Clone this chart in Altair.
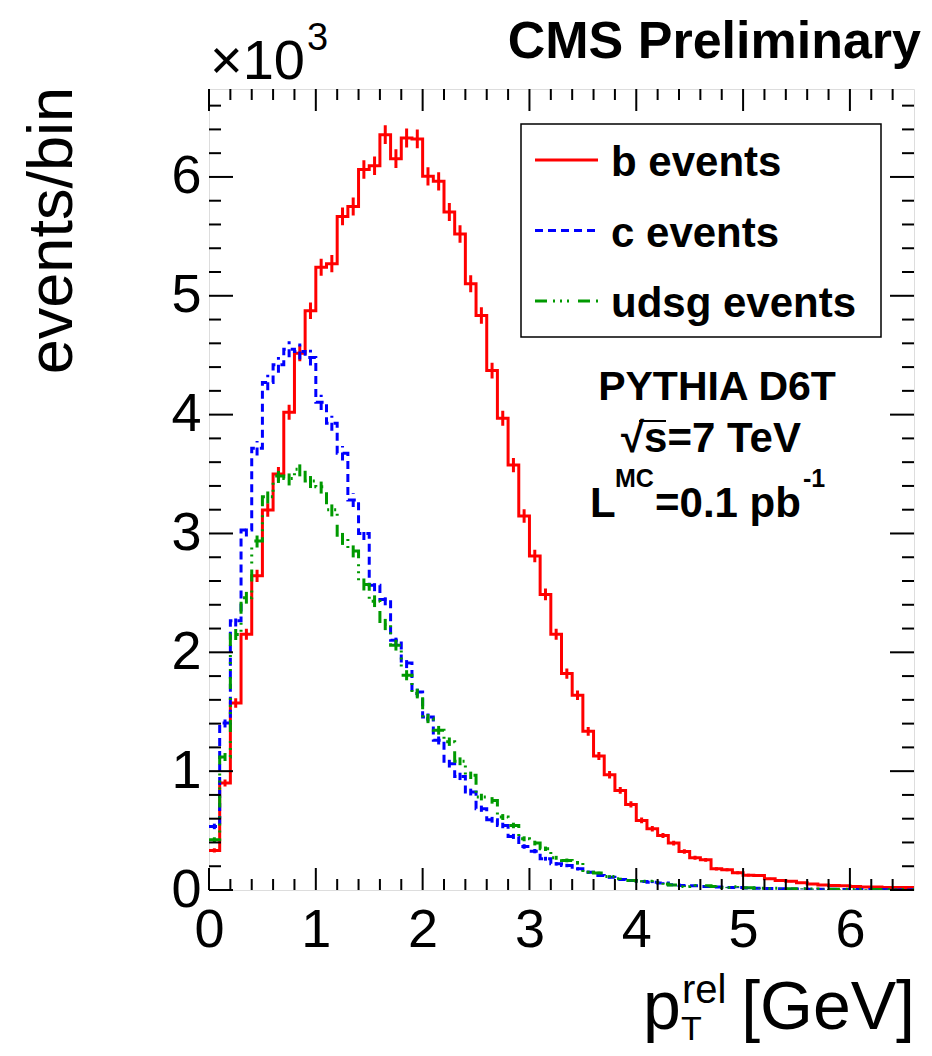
import altair as alt
import pandas as pd
import numpy as np

FONT = "Liberation Sans"

# ---------------- data ----------------
bin_width = 0.1
x_max = 6.6
y_max = 6740

series_names = ["b events", "c events", "udsg events"]
series_colors = ["#ff0000", "#0000ff", "#009900"]
series_dashes = [[1, 0], [8, 5], [12, 6, 2, 5, 2, 5, 2, 9]]

b_counts = [333, 900, 1574, 2152, 2644, 3197, 3500, 4020, 4517, 4874,
            5240, 5270, 5668, 5752, 6062, 6095, 6356, 6154, 6328, 6320,
            6005, 5963, 5705, 5520, 5101, 4834, 4371, 3969, 3576, 3147,
            2810, 2487, 2152, 1821, 1639, 1335, 1127, 970, 838, 720,
            585, 515, 459, 395, 324, 271, 254, 178, 170, 145,
            125, 122, 94, 80, 74, 60, 51, 43, 38, 35,
            30, 25, 25, 22, 20, 20]
c_counts = [535, 1405, 2265, 3029, 3717, 4270, 4419, 4551, 4531, 4480,
            4104, 3927, 3675, 3281, 3000, 2565, 2445, 2102, 1911, 1667,
            1456, 1260, 1063, 956, 824, 684, 591, 543, 451, 366,
            327, 263, 220, 206, 178, 150, 122, 108, 88, 80,
            72, 66, 58, 44, 38, 35, 30, 25, 22, 20,
            16, 14, 12, 10, 9, 8, 7, 6, 6, 5,
            5, 4, 4, 3, 3, 3]
udsg_counts = [423, 1119, 2150, 2459, 2936, 3310, 3484, 3463, 3540, 3441,
               3394, 3200, 2958, 2852, 2571, 2430, 2234, 2060, 1807, 1653,
               1442, 1344, 1248, 1083, 965, 782, 754, 614, 543, 431,
               395, 347, 271, 249, 229, 150, 142, 114, 94, 80,
               74, 74, 51, 43, 30, 38, 35, 30, 20, 28,
               18, 15, 12, 14, 10, 10, 8, 9, 6, 7,
               5, 6, 4, 5, 3, 4]

x_tick_labels = [0, 1, 2, 3, 4, 5, 6]
y_tick_labels = [0, 1000, 2000, 3000, 4000, 5000, 6000]

all_counts = [b_counts, c_counts, udsg_counts]
n_bins = len(b_counts)

# step table (bin lower edges + closing edge) and bin-centre table
step_rows, err_rows = [], []
for name, counts in zip(series_names, all_counts):
    for i, v in enumerate(counts):
        step_rows.append({"series": name, "x": i * bin_width, "v": v})
        err_rows.append({"series": name, "xc": (i + 0.5) * bin_width, "v": v})
    step_rows.append({"series": name, "x": n_bins * bin_width, "v": counts[-1]})
step_df = pd.DataFrame(step_rows)
err_df = pd.DataFrame(err_rows)

# ---------------- geometry ----------------
W, H = 705, 801
LW = 3

xscale = alt.Scale(domain=[0, x_max], nice=False, zero=False)
yscale = alt.Scale(domain=[0, y_max], nice=False, zero=False)
xaxis = alt.Axis(values=x_tick_labels, ticks=False, domain=False, grid=False,
                 labelFont=FONT, labelFontSize=54, labelColor="black",
                 labelPadding=13, title=None, labelFlush=False)
yaxis = alt.Axis(values=y_tick_labels, ticks=False, domain=False, grid=False,
                 labelFont=FONT, labelFontSize=54, labelColor="black",
                 labelPadding=8, title=None, labelExpr="datum.value / 1000")

color_enc = alt.Color("series:N", scale=alt.Scale(domain=series_names, range=series_colors), legend=None)
dash_enc = alt.StrokeDash("series:N", scale=alt.Scale(domain=series_names, range=series_dashes), legend=None)

hist = alt.Chart(step_df).mark_line(interpolate="step-after", strokeWidth=LW, clip=True).encode(
    x=alt.X("x:Q", scale=xscale, axis=xaxis),
    y=alt.Y("v:Q", scale=yscale, axis=yaxis),
    color=color_enc, strokeDash=dash_enc, detail="series:N",
)

errs = alt.Chart(err_df).transform_calculate(
    lo="datum.v - sqrt(datum.v)", hi="datum.v + sqrt(datum.v)"
).mark_rule(strokeWidth=LW).encode(
    x=alt.X("xc:Q", scale=xscale, axis=xaxis),
    y=alt.Y("lo:Q", scale=yscale, axis=yaxis),
    y2="hi:Q",
    color=color_enc, strokeDash=dash_enc,
)

# inward ROOT-style ticks
x_major = list(range(0, 7))
x_minor = [round(0.2 * k, 1) for k in range(1, 33) if k % 5 != 0]
y_major = list(range(0, 7000, 1000))
y_minor = [v for v in range(200, 6740, 200) if v % 1000 != 0]

def xticks(vals, length):
    d = pd.DataFrame({"x": vals})
    bot = alt.Chart(d).mark_rule(color="black", strokeWidth=2).encode(
        x=alt.X("x:Q", scale=xscale, axis=xaxis), y=alt.value(H), y2=alt.value(H - length))
    top = alt.Chart(d).mark_rule(color="black", strokeWidth=2).encode(
        x=alt.X("x:Q", scale=xscale, axis=xaxis), y=alt.value(0), y2=alt.value(length))
    return [bot, top]

def yticks(vals, length):
    d = pd.DataFrame({"v": vals})
    left = alt.Chart(d).mark_rule(color="black", strokeWidth=2).encode(
        y=alt.Y("v:Q", scale=yscale, axis=yaxis), x=alt.value(0), x2=alt.value(length))
    right = alt.Chart(d).mark_rule(color="black", strokeWidth=2).encode(
        y=alt.Y("v:Q", scale=yscale, axis=yaxis), x=alt.value(W), x2=alt.value(W - length))
    return [left, right]

tick_layers = xticks(x_major, 22) + xticks(x_minor, 11) + yticks(y_major, 24) + yticks(y_minor, 12)

def txt(s, x, y, size, bold=False, align="left", angle=0, baseline="alphabetic"):
    return alt.Chart(pd.DataFrame({"t": [s]})).mark_text(
        align=align, baseline=baseline, fontSize=size, font=FONT,
        fontWeight="bold" if bold else "normal", angle=angle, color="black"
    ).encode(x=alt.value(x), y=alt.value(y), text="t:N")

# legend box
legend_box = alt.Chart(pd.DataFrame({"a": [0]})).mark_rect(
    fill="white", stroke="black", strokeWidth=1.5
).encode(x=alt.value(312), x2=alt.value(672), y=alt.value(35), y2=alt.value(248))

legend_layers = [legend_box]
row_y = [71, 141.5, 212]
for name, col, dash, ry in zip(series_names, series_colors, series_dashes, row_y):
    legend_layers.append(
        alt.Chart(pd.DataFrame({"a": [0]})).mark_rule(color=col, strokeDash=dash, strokeWidth=LW)
        .encode(x=alt.value(326), x2=alt.value(389), y=alt.value(ry))
    )
    legend_layers.append(txt(name, 402, ry + 16, 42, bold=True))

annotations = [
    txt("CMS Preliminary", 712, -31, 52, bold=True, align="right"),
    txt("\u00d710", 1, -10, 56),
    txt("3", 98, -39, 38),
    txt("events/bin", -137, -2, 63, align="right", angle=270),
    txt("PYTHIA D6T", 508, 311, 41, bold=True, align="center"),
    txt("\u221as=7 TeV", 502, 363, 42, bold=True, align="center"),
    alt.Chart(pd.DataFrame({"a": [0]})).mark_rule(color="black", strokeWidth=2).encode(
        x=alt.value(430), x2=alt.value(457), y=alt.value(332)),
    txt("L", 381, 428, 42, bold=True),
    txt("MC", 406, 398, 25, bold=True),
    txt("=0.1 pb", 446, 428, 42, bold=True),
    txt("-1", 594, 398, 25, bold=True),
    txt("[GeV]", 706, 940, 68, align="right"),
    txt("p", 434, 940, 68),
    txt("rel", 473, 914, 40),
    txt("T", 472, 951, 34),
]

chart = alt.layer(hist, errs, *tick_layers, *legend_layers, *annotations).properties(
    width=W, height=H,
    padding={"left": 201, "top": 81, "right": 10, "bottom": 158},
    autosize=alt.AutoSizeParams(type="none"),
).configure_view(stroke="black", strokeWidth=2.5).configure(background="white")

chart.save("out.html", embed_options={"renderer": "svg", "actions": False})
